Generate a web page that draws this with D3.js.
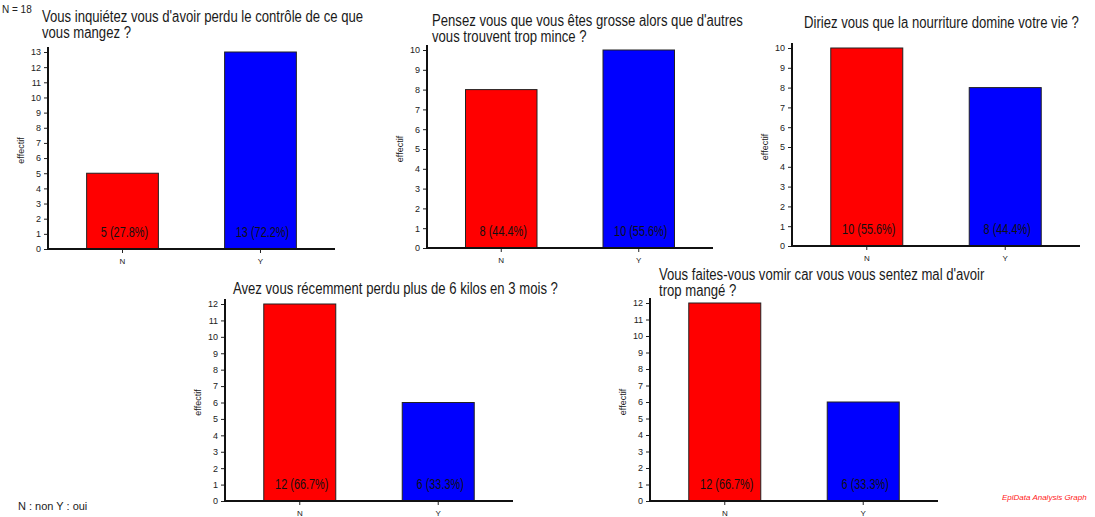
<!DOCTYPE html>
<html>
<head>
<meta charset="utf-8">
<script src="https://cdn.jsdelivr.net/npm/d3@7"></script>
<style>
  body { margin: 0; background: #fff; }
  svg { display: block; }
  .tick text { font-family: "Liberation Sans", Arial, sans-serif; fill: #222; }
</style>
</head>
<body>
<div id="chart"></div>
<script>
// data
const categories = ["N", "Y"];
const titles = [
  ["Vous inquiétez vous d'avoir perdu le contrôle de ce que", "vous mangez ?"],
  ["Pensez vous que vous êtes grosse alors que d'autres", "vous trouvent trop mince ?"],
  ["Diriez vous que la nourriture domine votre vie ?"],
  ["Avez vous récemment perdu plus de 6 kilos en 3 mois ?"],
  ["Vous faites-vous vomir car vous vous sentez mal d'avoir", "trop mangé ?"]
];
const countsN = [5, 8, 10, 12, 12];
const countsY = [13, 10, 8, 6, 6];
const yMax = [13, 10, 10, 12, 12];
const total = 18;

// panel placement (pixels)
const layout = [
  {x0: 48,  x1: 335, base: 249, top: 52,  tx: 42,  ty: 22},
  {x0: 427, x1: 713, base: 248, top: 50,  tx: 432, ty: 26},
  {x0: 792, x1: 1080, base: 246, top: 48, tx: 804, ty: 28},
  {x0: 225, x1: 513, base: 501, top: 304, tx: 233, ty: 294},
  {x0: 650, x1: 938, base: 501, top: 303, tx: 659, ty: 280}
];

const W = 1095, H = 517;
const font = "'Liberation Sans', Arial, sans-serif";
const colors = ["#ff0000", "#0000ff"];

const svg = d3.select("#chart").append("svg")
  .attr("width", W).attr("height", H);

// the source uses a condensed face: squeeze regular text horizontally
function squeezed(parent, x, y, sx) {
  return parent.append("g")
    .attr("transform", `translate(${x},${y}) scale(${sx},1)`)
    .append("text")
      .style("font-family", font);
}

layout.forEach(function(p, i) {
  const g = svg.append("g");
  const vals = [countsN[i], countsY[i]];

  const x = d3.scaleBand()
    .domain(categories)
    .range([p.x0, p.x1])
    .paddingInner(0.48)
    .paddingOuter(0.28);

  const y = d3.scaleLinear()
    .domain([0, yMax[i]])
    .range([p.base, p.top]);

  // bars
  g.selectAll("rect")
    .data(categories)
    .join("rect")
      .attr("x", d => x(d))
      .attr("y", (d, j) => y(vals[j]))
      .attr("width", x.bandwidth())
      .attr("height", (d, j) => y(0) - y(vals[j]))
      .attr("fill", (d, j) => colors[j])
      .attr("stroke", "#222")
      .attr("stroke-width", 1);

  // value labels
  categories.forEach(function(c, j) {
    squeezed(g, x(c) + x.bandwidth() / 2 + 2, p.base - 12, 0.78)
      .attr("text-anchor", "middle")
      .style("font-size", "14px")
      .attr("fill", "#111")
      .text(vals[j] + " (" + (vals[j] / total * 100).toFixed(1) + "%)");
  });

  // y axis
  const ya = g.append("g")
    .attr("transform", `translate(${p.x0},0)`)
    .call(d3.axisLeft(y).ticks(yMax[i]).tickSize(4).tickPadding(3));
  ya.select(".domain").remove();
  ya.selectAll(".tick line").attr("stroke", "#222");
  ya.selectAll(".tick text").style("font-size", "9px");

  // x axis
  const xa = g.append("g")
    .attr("transform", `translate(0,${p.base})`)
    .call(d3.axisBottom(x).tickSize(4).tickPadding(5));
  xa.select(".domain").remove();
  xa.selectAll(".tick line").attr("stroke", "#222");
  xa.selectAll(".tick text").style("font-size", "8px");

  // axis lines
  g.append("line")
    .attr("x1", p.x0).attr("x2", p.x0)
    .attr("y1", p.base).attr("y2", p.top - 5)
    .attr("stroke", "#111").attr("stroke-width", 2);
  g.append("line")
    .attr("x1", p.x0 - 1).attr("x2", p.x1)
    .attr("y1", p.base).attr("y2", p.base)
    .attr("stroke", "#111").attr("stroke-width", 2);

  // y label
  g.append("text")
    .attr("transform", `translate(${p.x0 - 24},${(p.base + p.top) / 2}) rotate(-90)`)
    .attr("text-anchor", "middle")
    .style("font-family", font)
    .style("font-size", "9px")
    .attr("fill", "#222")
    .text("effectif");

  // title
  squeezed(g, p.tx, p.ty, 0.82)
    .style("font-size", "16px")
    .attr("fill", "#1a1a1a")
    .selectAll("tspan")
    .data(titles[i])
    .join("tspan")
      .attr("x", 0)
      .attr("dy", (d, k) => k === 0 ? 0 : 16)
      .text(d => d);
});

svg.append("text")
  .attr("x", 2).attr("y", 13)
  .style("font-family", font)
  .style("font-size", "10px")
  .attr("fill", "#222")
  .text("N = " + total);

svg.append("text")
  .attr("x", 18).attr("y", 510)
  .style("font-family", font)
  .style("font-size", "11px")
  .attr("fill", "#222")
  .text("N : non Y : oui");

svg.append("text")
  .attr("x", 1002).attr("y", 500)
  .style("font-family", font)
  .style("font-size", "8px")
  .style("font-style", "italic")
  .attr("fill", "#ff2020")
  .text("EpiData Analysis Graph");
</script>
</body>
</html>
